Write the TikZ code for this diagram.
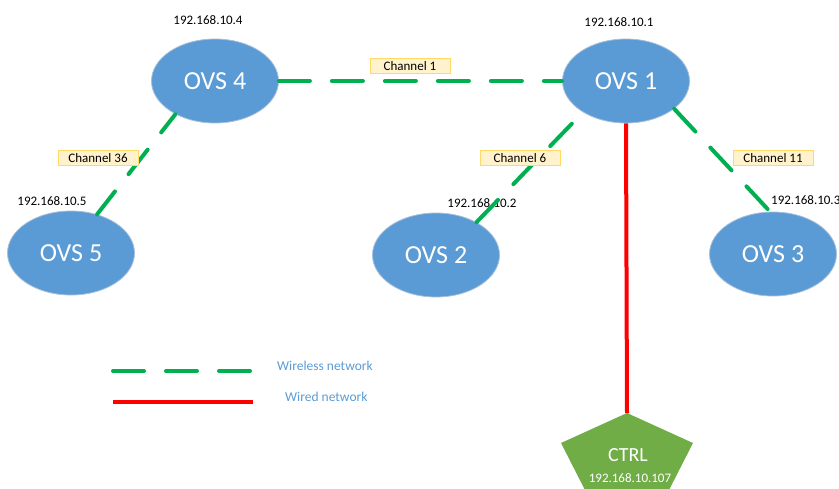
\documentclass[tikz,border=0pt]{standalone}
\usepackage{fontspec}
\setmainfont{Carlito}
\usepackage{tikz}
\usetikzlibrary{positioning, shapes}

\definecolor{ovsblue}{HTML}{5B9BD5}
\definecolor{ovsedge}{HTML}{A9BFD9}
\definecolor{wlgreen}{HTML}{00B050}
\definecolor{wdred}{HTML}{FF0000}
\definecolor{ctrlgreen}{HTML}{70AD47}
\definecolor{chfill}{HTML}{FFF2CC}
\definecolor{chedge}{HTML}{FFD966}

\begin{document}
\begin{tikzpicture}[x=1pt, y=-1pt,
     ovs/.style={ellipse, fill=ovsblue, draw=ovsedge, line width=.8pt, minimum width=127pt,
       minimum height=84pt, inner sep=0pt, text=white, font=\fontsize{26}{26}\selectfont},
     ip/.style={inner sep=0pt, font=\fontsize{13}{13}\selectfont},
     chan/.style={draw=chedge, fill=chfill, line width=.8pt, minimum width=80pt,
       minimum height=15pt, inner sep=0pt, font=\fontsize{13}{13}\selectfont},
     wireless/.style={wlgreen, line width=4pt, line cap=round, dash pattern=on 31pt off 22pt},
     wired/.style={wdred, line width=4pt},
     legend/.style={text=ovsblue, anchor=west, inner sep=0pt, font=\fontsize{13.5}{13.5}\selectfont}]

  \useasboundingbox (0,0) rectangle (839,488);
  \clip (0,0) rectangle (839,488);

  % switches
  \node[ovs] (ovs4) at (215,81) {OVS 4};
  \node[ovs] (ovs1) at (626,81) {OVS 1};
  \node[ovs] (ovs5) at (71,253) {OVS 5};
  \node[ovs] (ovs2) at (436,255) {OVS 2};
  \node[ovs] (ovs3) at (773,254) {OVS 3};

  % controller
  \coordinate (ctrl) at (627,413);
  \fill[ctrlgreen] (ctrl) -- (693,443) -- (668,492) -- (586,492) -- (561,443) -- cycle;
  \node[text=white, font=\fontsize{20}{20}\selectfont, inner sep=0pt] (ctrlname) at (628,455) {CTRL};
  \node[ip, text=white] (ctrlip) at (630,478) {192.168.10.107};

  % addresses
  \node[ip] (ip4) at (208,20) {192.168.10.4};
  \node[ip] (ip1) at (619,22) {192.168.10.1};
  \node[ip] (ip5) at (52,201) {192.168.10.5};
  \node[ip] (ip2) at (482,203) {192.168.10.2};
  \node[ip, anchor=west] (ip3) at (771,200) {192.168.10.3};

  % links
  \path[wireless]
   (ovs4.east) edge (ovs1.west)
   (ovs2.39) edge (ovs1.216)
   (ovs1.330) edge (ovs3.94);
  \path[wireless, dash phase=8pt] (ovs4.220) edge (ovs5.56);
  \path[wired] (ovs1.south) edge (ctrl);

  \node[chan] (ch1) at (410,66) {Channel 1};
  \node[chan] (ch36) at (98,158) {Channel 36};
  \node[chan] (ch6) at (520,158) {Channel 6};
  \node[chan] (ch11) at (773,158) {Channel 11};

  % legend
  \coordinate (wl0) at (113,371);
  \coordinate (wl1) at (251,371);
  \coordinate (wd0) at (113,402);
  \coordinate (wd1) at (253,402);
  \path[wireless] (wl0) edge (wl1);
  \path[wired] (wd0) edge (wd1);
  \node[legend] (wltext) at (277,366) {Wireless network};
  \node[legend] (wdtext) at (285,397) {Wired network};
\end{tikzpicture}
\end{document}
